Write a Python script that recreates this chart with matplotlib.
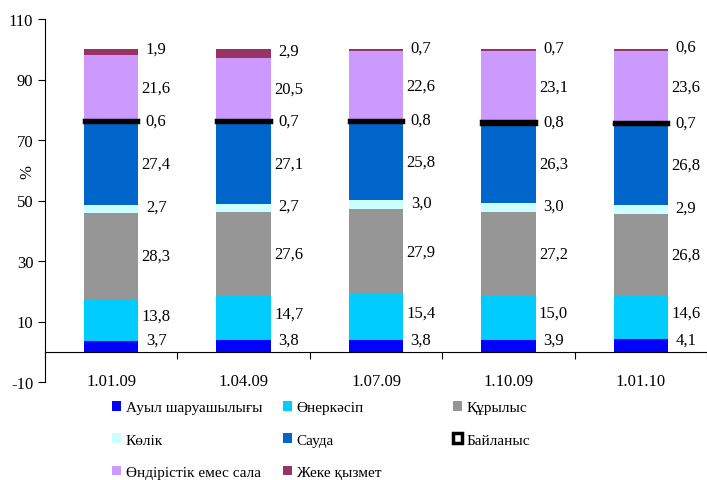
import matplotlib.pyplot as plt
import numpy as np

plt.rcParams['font.family'] = ['Liberation Serif', 'DejaVu Serif']
plt.rcParams['axes.unicode_minus'] = False

dates = ["1.01.09", "1.04.09", "1.07.09", "1.10.09", "1.01.10"]
names = ["Ауыл шаруашылығы", "Өнеркәсіп", "Құрылыс", "Көлік", "Сауда",
         "Байланыс", "Өндірістік емес сала", "Жеке қызмет"]

agri = [3.7, 3.8, 3.8, 3.9, 4.1]
industry = [13.8, 14.7, 15.4, 15.0, 14.6]
building = [28.3, 27.6, 27.9, 27.2, 26.8]
transport = [2.7, 2.7, 3.0, 3.0, 2.9]
trade = [27.4, 27.1, 25.8, 26.3, 26.8]
comm = [0.6, 0.7, 0.8, 0.8, 0.7]
nonprod = [21.6, 20.5, 22.6, 23.1, 23.6]
private = [1.9, 2.9, 0.7, 0.7, 0.6]

series = [agri, industry, building, transport, trade, comm, nonprod, private]
colors = ["#0000FF", "#00CCFF", "#969696", "#CCFFFF", "#0066CC",
          "#FFFFFF", "#CC99FF", "#993366"]
# label nudges (in % units) so small slices don't overlap
nudge = [2.0, 1.5, 0.0, 0.8, 0.0, 0.3, 0.0, 1.0]

fig = plt.figure(figsize=(7.07, 4.81), dpi=100)
ax = fig.add_axes([45 / 707, 1 - 383 / 481, 1 - 45 / 707, (383 - 20) / 481])

x = np.arange(len(dates))
bottom = np.zeros(len(dates))
handles = []
for i, vals in enumerate(series):
    vals = np.array(vals)
    if names[i] == "Байланыс":
        b = ax.bar(x, vals, 0.41, bottom=bottom, color=colors[i],
                   edgecolor="black", linewidth=2.5, zorder=3)
    else:
        b = ax.bar(x, vals, 0.41, bottom=bottom, color=colors[i],
                   linewidth=0, zorder=2)
    handles.append(b)
    for j in range(len(dates)):
        ax.text(x[j] + 0.34, bottom[j] + vals[j] / 2 + nudge[i],
                f"{vals[j]:.1f}".replace(".", ","),
                ha="center", va="center", fontsize=12)
    bottom += vals

ax.set_ylim(-10, 110)
ax.set_xlim(-0.5, -0.5 + 662 / 133)
ax.set_yticks(np.arange(-10, 111, 20))
ax.tick_params(axis="y", labelsize=12, length=5, direction="out")
ax.set_ylabel("%", fontsize=12)
ax.yaxis.set_label_coords(-0.014, 0.58)

ax.spines["top"].set_visible(False)
ax.spines["right"].set_visible(False)
ax.spines["bottom"].set_position(("data", 0))

ax.set_xticks(np.arange(len(dates) + 1) - 0.5)
ax.set_xticklabels([])
ax.tick_params(axis="x", which="major", length=5, direction="out")
ax.set_xticks(x, minor=True)
ax.set_xticklabels(dates, minor=True, fontsize=12)
ax.tick_params(axis="x", which="minor", length=0, pad=15)

# legend: three columns at fixed x like the original
cols = [[0, 3, 6], [1, 4, 7], [2, 5]]
col_x = [112, 283, 453]
for c, xs in zip(cols, col_x):
    lg = fig.legend([handles[k] for k in c], [names[k] for k in c],
                    loc="upper left", bbox_to_anchor=(xs / 707, 1 - 402 / 481),
                    frameon=False, fontsize=11, borderpad=0, borderaxespad=0,
                    handlelength=0.6, handleheight=0.6, handletextpad=0.3,
                    labelspacing=1.25)

fig.savefig("out.png", dpi=100)
